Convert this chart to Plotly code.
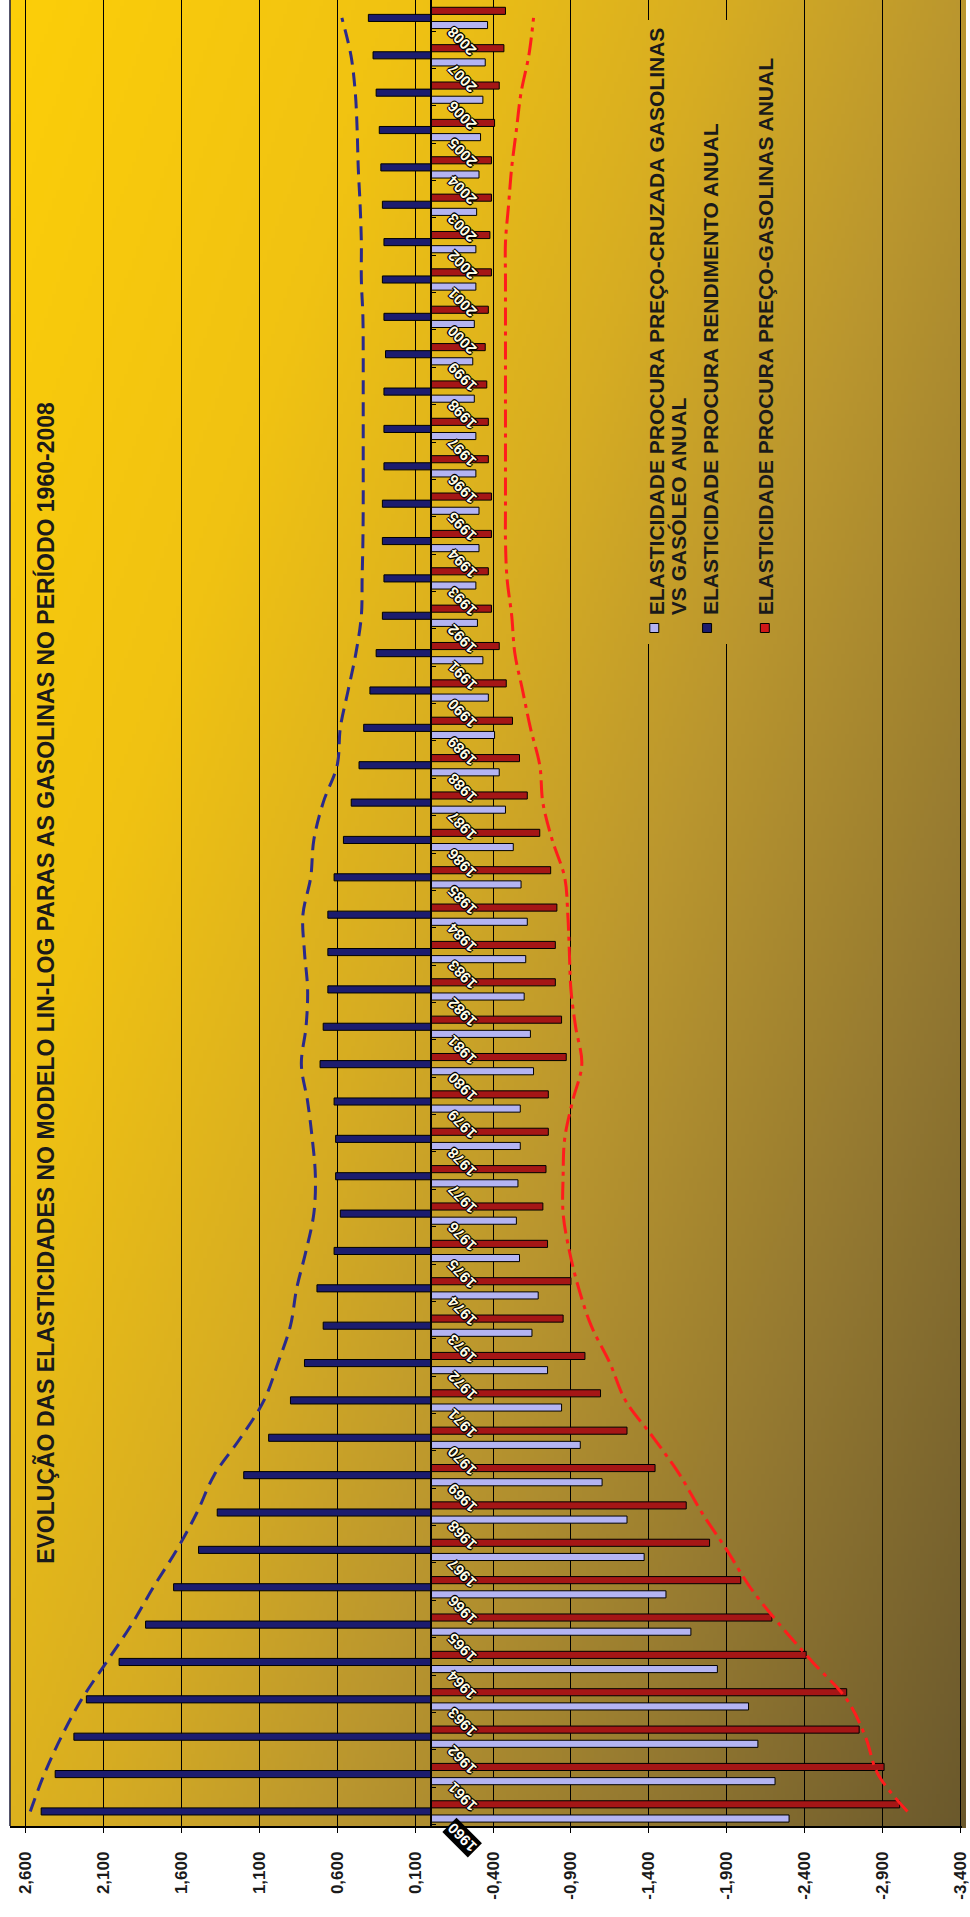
import base64
import struct
import zlib
import plotly.graph_objects as go

# ---------------- data ----------------
years = list(range(1960, 2009))

cross_price = [-2.30, -2.21, -2.10, -2.04, -1.84, -1.67, -1.51, -1.37, -1.26, -1.10,
               -0.96, -0.84, -0.75, -0.65, -0.69, -0.57, -0.55, -0.56, -0.575, -0.575,
               -0.66, -0.64, -0.60, -0.61, -0.62, -0.58, -0.53, -0.48, -0.44, -0.41,
               -0.37, -0.335, -0.30, -0.29, -0.31, -0.31, -0.29, -0.29, -0.28, -0.27,
               -0.28, -0.29, -0.29, -0.295, -0.31, -0.32, -0.335, -0.35, -0.365]

income = [2.50, 2.41, 2.29, 2.21, 2.00, 1.83, 1.65, 1.49, 1.37, 1.20,
          1.04, 0.90, 0.81, 0.69, 0.73, 0.62, 0.58, 0.61, 0.61, 0.62,
          0.71, 0.69, 0.66, 0.66, 0.66, 0.62, 0.56, 0.51, 0.46, 0.43,
          0.39, 0.35, 0.31, 0.30, 0.31, 0.31, 0.30, 0.30, 0.30, 0.29,
          0.30, 0.31, 0.30, 0.31, 0.32, 0.33, 0.35, 0.37, 0.40]

price = [-3.01, -2.91, -2.75, -2.67, -2.41, -2.19, -1.99, -1.79, -1.64, -1.44,
         -1.26, -1.09, -0.99, -0.85, -0.90, -0.75, -0.72, -0.74, -0.755, -0.755,
         -0.87, -0.84, -0.80, -0.80, -0.81, -0.77, -0.70, -0.62, -0.57, -0.525,
         -0.485, -0.44, -0.39, -0.37, -0.39, -0.39, -0.37, -0.37, -0.36, -0.35,
         -0.37, -0.39, -0.38, -0.39, -0.39, -0.41, -0.44, -0.47, -0.48]

income_trend = [2.57, 2.48, 2.37, 2.24, 2.08, 1.92, 1.78, 1.63, 1.50, 1.39,
                1.22, 1.07, 0.98, 0.90, 0.86, 0.80, 0.75, 0.74, 0.76, 0.79,
                0.83, 0.80, 0.79, 0.81, 0.82, 0.77, 0.75, 0.69, 0.60, 0.58,
                0.53, 0.48, 0.445, 0.44, 0.435, 0.433, 0.433, 0.433, 0.433, 0.433,
                0.435, 0.445, 0.445, 0.453, 0.465, 0.472, 0.484, 0.512, 0.57]

price_trend = [-3.06, -2.87, -2.79, -2.67, -2.45, -2.24, -2.05, -1.90, -1.74, -1.60,
               -1.43, -1.25, -1.15, -1.03, -0.95, -0.89, -0.85, -0.85, -0.86, -0.91,
               -0.97, -0.93, -0.90, -0.89, -0.88, -0.86, -0.78, -0.72, -0.70, -0.64,
               -0.59, -0.54, -0.52, -0.49, -0.48, -0.48, -0.48, -0.48, -0.48, -0.48,
               -0.48, -0.48, -0.48, -0.50, -0.52, -0.55, -0.58, -0.63, -0.66]

tick_values = [2.6, 2.1, 1.6, 1.1, 0.6, 0.1, -0.4, -0.9, -1.4, -1.9, -2.4, -2.9, -3.4]
tick_labels = ["2,600", "2,100", "1,600", "1,100", "0,600", "0,100", "-0,400",
               "-0,900", "-1,400", "-1,900", "-2,400", "-2,900", "-3,400"]

series_names = ["ELASTICIDADE PROCURA PREÇO-CRUZADA GASOLINAS VS GASÓLEO ANUAL",
                "ELASTICIDADE PROCURA RENDIMENTO ANUAL",
                "ELASTICIDADE PROCURA PREÇO-GASOLINAS ANUAL"]
title_text = "EVOLUÇÃO DAS ELASTICIDADES NO MODELO LIN-LOG PARAS AS GASOLINAS NO PERÍODO 1960-2008"

# ---------------- layout geometry ----------------
W, H = 970, 1917
ML, MR, MT, MB = 10, 4, 0, 91
PW, PH = W - ML - MR, H - MT - MB


def X(px):
    return (px - ML) / PW


def Y(py):
    return (MT + PH - py) / PH


# ---------------- gradient background (PNG built in pure python) ----------------
stops = [(0.0, (252, 206, 8)), (0.25, (240, 194, 18)), (0.45, (214, 172, 34)),
         (0.6, (186, 150, 46)), (0.8, (146, 119, 48)), (1.0, (106, 88, 44))]


def grad(px, py):
    u = (px - 10) / 960.0
    v = py / 1826.0
    t = min(max(0.6 * u + 0.4 * v, 0.0), 1.0)
    for k in range(len(stops) - 1):
        t0, c0 = stops[k]
        t1, c1 = stops[k + 1]
        if t <= t1:
            f = (t - t0) / (t1 - t0)
            return tuple(int(round(c0[m] + f * (c1[m] - c0[m]))) for m in range(3))
    return stops[-1][1]


CELL = 4


def png_uri(i0, i1, j0, j1):
    raw = bytearray()
    for j in range(j0, j1):
        raw.append(0)
        py = CELL * j + CELL / 2
        for i in range(i0, i1):
            px = 10 + CELL * i + CELL / 2
            raw += bytes(grad(px, py))

    def chunk(tag, data):
        c = struct.pack(">I", len(data)) + tag + data
        return c + struct.pack(">I", zlib.crc32(tag + data) & 0xffffffff)

    png = (b"\x89PNG\r\n\x1a\n"
           + chunk(b"IHDR", struct.pack(">IIBBBBB", i1 - i0, j1 - j0, 8, 2, 0, 0, 0))
           + chunk(b"IDAT", zlib.compress(bytes(raw), 9))
           + chunk(b"IEND", b""))
    return "data:image/png;base64," + base64.b64encode(png).decode()


bg_uri = png_uri(0, 240, 0, 457)
patch_i0, patch_i1, patch_j0, patch_j1 = 158, 198, 5, 161
patch_uri = png_uri(patch_i0, patch_i1, patch_j0, patch_j1)

# ---------------- figure ----------------
fig = go.Figure()

bar_line = dict(color="#000000", width=1)
fig.add_trace(go.Bar(x=cross_price, y=years, orientation="h", name=series_names[0],
                     marker=dict(color="#b4b4f2", line=bar_line)))
fig.add_trace(go.Bar(x=income, y=years, orientation="h", name=series_names[1],
                     marker=dict(color="#1c1c6e", line=bar_line)))
fig.add_trace(go.Bar(x=price, y=years, orientation="h", name=series_names[2],
                     marker=dict(color="#a51616", line=bar_line)))

fig.add_trace(go.Scatter(x=income_trend, y=years, mode="lines", showlegend=False,
                         line=dict(color="#2a2a8c", width=3, dash="14px,8px", shape="spline")))
fig.add_trace(go.Scatter(x=price_trend, y=years, mode="lines", showlegend=False,
                         line=dict(color="#ff1c1c", width=3, dash="18px,6px,4px,6px", shape="spline")))

bold = "Liberation Sans, Arial, sans-serif"
annotations = []

# year labels along the zero line
outline = "-1px -1px 0 #000, 1px -1px 0 #000, -1px 1px 0 #000, 1px 1px 0 #000"
for yr in years:
    first = yr == years[0]
    annotations.append(dict(
        x=-0.2, y=yr, yshift=-26 if first else -23, xref="x", yref="y", text=str(yr),
        showarrow=False, textangle=-135, xanchor="center", yanchor="middle",
        bgcolor="#000000" if first else None, borderpad=1,
        font=dict(family=bold, size=15, weight="bold",
                  color="#ffffff" if first else "#fffce6",
                  shadow="none" if first else outline)))

# title
annotations.append(dict(
    x=X(45), y=Y(983), xref="paper", yref="paper", text=title_text, showarrow=False,
    textangle=-90, xanchor="center", yanchor="middle",
    font=dict(family=bold, size=23, weight="bold", color="#1a1a1a")))

# legend texts
leg_font = dict(family=bold, size=21, weight="bold", color="#1a1a1a")
legend_items = [
    (659, "ELASTICIDADE PROCURA PREÇO-CRUZADA GASOLINAS"),
    (681, "VS GASÓLEO ANUAL"),
    (713, series_names[1]),
    (769, series_names[2]),
]
for px, txt in legend_items:
    annotations.append(dict(
        x=X(px), y=Y(617), xref="paper", yref="paper", text=txt, showarrow=False,
        textangle=-90, xanchor="center", yanchor="bottom", font=leg_font))

shapes = []
swatch_colors = ["#b4b4f2", "#1c1c6e", "#d01818"]
for px, col in zip([657, 710, 768], swatch_colors):
    shapes.append(dict(type="rect", xref="paper", yref="paper",
                       x0=X(px - 4.5), x1=X(px + 4.5), y0=Y(632.5), y1=Y(623.5),
                       fillcolor=col, line=dict(color="#000000", width=1), layer="above"))
# left border of the plot area
shapes.append(dict(type="line", xref="paper", yref="paper", x0=0, x1=0, y0=0, y1=1,
                   line=dict(color="#1a1a3a", width=1.5), layer="above"))

images = [
    dict(source=bg_uri, xref="paper", yref="paper", x=X(10), y=Y(0),
         sizex=960 / PW, sizey=(457 * CELL) / PH, xanchor="left", yanchor="top",
         sizing="stretch", layer="below"),
    dict(source=patch_uri, xref="paper", yref="paper",
         x=X(10 + CELL * patch_i0), y=Y(CELL * patch_j0),
         sizex=CELL * (patch_i1 - patch_i0) / PW, sizey=CELL * (patch_j1 - patch_j0) / PH,
         xanchor="left", yanchor="top", sizing="stretch", layer="above"),
]

x_lo, x_hi = -3.41, 2.7
zero_pos = (x_hi - 0.0) / (x_hi - x_lo)

fig.update_layout(
    width=W, height=H,
    margin=dict(l=ML, r=MR, t=MT, b=MB, pad=0),
    paper_bgcolor="#ffffff",
    plot_bgcolor="rgba(0,0,0,0)",
    barmode="group", bargap=0.43, bargroupgap=0.0,
    showlegend=False,
    annotations=annotations,
    shapes=shapes,
    images=images,
    xaxis=dict(range=[x_hi, x_lo], tickvals=tick_values, ticktext=tick_labels,
               tickangle=-90, ticks="outside", ticklen=5, tickcolor="#000000",
               ticklabelstandoff=12, ticklabeloverflow="allow",
               tickfont=dict(family=bold, size=17, weight="bold", color="#1a1a1a"),
               showgrid=True, gridcolor="#000000", gridwidth=1, zeroline=False,
               showline=True, linecolor="#000000", linewidth=1.5),
    yaxis=dict(range=[1959.61, 2008.48], anchor="free", position=zero_pos,
               showgrid=False, zeroline=False, showline=True, linecolor="#000000",
               linewidth=1.5, ticks="inside", ticklen=5, tickcolor="#000000",
               tickvals=[yr - 0.35 for yr in years], showticklabels=False),
)

fig.write_html("out.html")
